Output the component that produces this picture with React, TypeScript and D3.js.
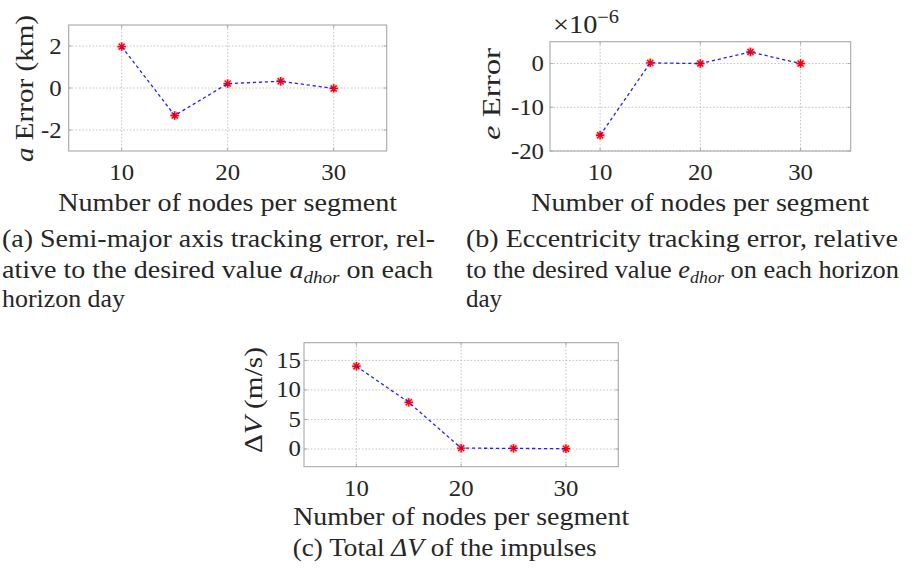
import React from "react";
import * as d3 from "d3";

// Number of collocation nodes per segment (shared x values)
const nodeCounts = [10, 15, 20, 25, 30];
// Semi-major axis tracking error (km)
const semiMajorError = [1.97, -1.31, 0.21, 0.32, -0.02];
// Eccentricity tracking error (×1e-6)
const eccentricityError = [-16.4, 0.15, 0.0, 2.65, 0.0];
// Total ΔV of the impulses (m/s)
const deltaV = [14.0, 7.9, 0.15, 0.1, 0.05];

const xTicks = [10, 20, 30];
const semiMajorTicks = [-2, 0, 2];
const eccentricityTicks = [-20, -10, 0];
const deltaVTicks = [0, 5, 10, 15];

const xDomain: [number, number] = [5, 35];

const SERIF = "Liberation Serif";
const TICK_FS = 23;
const LABEL_FS = 25;
const INK = "#262626";
const textStyle: React.CSSProperties = { fontFamily: SERIF };

type PanelProps = {
  left: number;
  right: number;
  top: number;
  bottom: number;
  yDomain: [number, number];
  yTicks: number[];
  values: number[];
  tickGap: number;
  xTickDy: number;
  xLabelDy: number;
  yLabelX: number;
  yLabelCy: number;
  yLabelLen: number;
  yLabel: React.ReactNode;
  xLabelLen: number;
};

function Asterisk({ x, y }: { x: number; y: number }) {
  const r = 4.2;
  const d = r * Math.SQRT1_2;
  return (
    <g>
      <circle cx={x} cy={y} r={4.6} fill="#ff2a2a" opacity={0.28} />
      <path
        d={`M${x - r},${y}H${x + r}M${x},${y - r}V${y + r}M${x - d},${y - d}L${x + d},${y + d}M${x - d},${y + d}L${x + d},${y - d}`}
        stroke="#ff0000"
        strokeWidth={1.4}
      />
    </g>
  );
}

function Panel(p: PanelProps) {
  const x = d3.scaleLinear().domain(xDomain).range([p.left, p.right]);
  const y = d3.scaleLinear().domain(p.yDomain).range([p.bottom, p.top]);
  const line = d3
    .line<number>()
    .x((_, i) => x(nodeCounts[i]))
    .y((v) => y(v));
  const cx = (p.left + p.right) / 2;
  return (
    <g>
      {/* dotted grid */}
      {xTicks.map((t) => (
        <line
          key={"gx" + t}
          x1={x(t)}
          x2={x(t)}
          y1={p.top}
          y2={p.bottom}
          stroke="#bdbdbd"
          strokeWidth={0.9}
          strokeDasharray="1.6 1.8"
        />
      ))}
      {p.yTicks.map((t) => (
        <line
          key={"gy" + t}
          x1={p.left}
          x2={p.right}
          y1={y(t)}
          y2={y(t)}
          stroke="#bdbdbd"
          strokeWidth={0.9}
          strokeDasharray="1.6 1.8"
        />
      ))}
      {/* inner tick marks */}
      {xTicks.map((t) => (
        <g key={"tx" + t} stroke="#a8a8a8" strokeWidth={1}>
          <line x1={x(t)} x2={x(t)} y1={p.bottom} y2={p.bottom - 3} />
          <line x1={x(t)} x2={x(t)} y1={p.top} y2={p.top + 3} />
        </g>
      ))}
      {p.yTicks.map((t) => (
        <g key={"ty" + t} stroke="#a8a8a8" strokeWidth={1}>
          <line x1={p.left} x2={p.left + 3} y1={y(t)} y2={y(t)} />
          <line x1={p.right} x2={p.right - 3} y1={y(t)} y2={y(t)} />
        </g>
      ))}
      <rect
        x={p.left}
        y={p.top}
        width={p.right - p.left}
        height={p.bottom - p.top}
        fill="none"
        stroke="#a8a8a8"
        strokeWidth={1.1}
      />
      {/* markers and dashed connecting line */}
      {p.values.map((v, i) => (
        <Asterisk key={"m" + i} x={x(nodeCounts[i])} y={y(v)} />
      ))}
      <path
        d={line(p.values) || ""}
        fill="none"
        stroke="#1f1fff"
        strokeWidth={1.3}
        strokeDasharray="3.2 2.8"
      />
      {/* tick labels */}
      {xTicks.map((t) => (
        <text
          key={"lx" + t}
          transform={`translate(${x(t)},${p.bottom + p.xTickDy}) scale(1.08,1)`}
          textAnchor="middle"
          fontSize={TICK_FS}
          style={textStyle}
          fill={INK}
        >
          {t}
        </text>
      ))}
      {p.yTicks.map((t) => (
        <text
          key={"ly" + t}
          transform={`translate(${p.left - p.tickGap},${y(t) + 7.5}) scale(1.08,1)`}
          textAnchor="end"
          fontSize={TICK_FS}
          style={textStyle}
          fill={INK}
        >
          {t < 0 ? "-" + Math.abs(t) : t}
        </text>
      ))}
      {/* axis labels */}
      <text
        x={cx - p.xLabelLen / 2}
        y={p.bottom + p.xLabelDy}
        fontSize={LABEL_FS}
        style={textStyle}
        fill={INK}
        textLength={p.xLabelLen}
        lengthAdjust="spacingAndGlyphs"
      >
        Number of nodes per segment
      </text>
      <text
        transform={`translate(${p.yLabelX},${p.yLabelCy + p.yLabelLen / 2}) rotate(-90)`}
        fontSize={LABEL_FS}
        style={textStyle}
        fill={INK}
        textLength={p.yLabelLen}
        lengthAdjust="spacingAndGlyphs"
      >
        {p.yLabel}
      </text>
    </g>
  );
}

type CaptionLine = { x: number; y: number; len?: number; content: React.ReactNode };

function Caption({ lines }: { lines: CaptionLine[] }) {
  return (
    <g>
      {lines.map((l, i) =>
        l.len ? (
          <text
            key={i}
            x={l.x}
            y={l.y}
            fontSize={LABEL_FS}
            style={textStyle}
            fill={INK}
            textLength={l.len}
            lengthAdjust="spacingAndGlyphs"
          >
            {l.content}
          </text>
        ) : (
          <text key={i} x={l.x} y={l.y} fontSize={LABEL_FS} style={textStyle} fill={INK}>
            {l.content}
          </text>
        )
      )}
    </g>
  );
}

function Sub({ base, sub }: { base: string; sub: string }) {
  return (
    <>
      <tspan fontStyle="italic">{base}</tspan>
      <tspan fontStyle="italic" fontSize={17} dy={5}>
        {sub}
      </tspan>
    </>
  );
}

export default function App() {
  return (
    <svg
      width={914}
      height={573}
      viewBox="0 0 914 573"
      style={{ position: "absolute", left: 0, top: 0, background: "#fff", fontFamily: SERIF }}
    >
      <Panel
        left={68.7}
        right={386.7}
        top={25}
        bottom={151}
        yDomain={[-3, 3]}
        yTicks={semiMajorTicks}
        values={semiMajorError}
        tickGap={7}
        xTickDy={29}
        xLabelDy={59.5}
        yLabelX={33}
        yLabelCy={88.5}
        yLabelLen={147}
        xLabelLen={339}
        yLabel={
          <>
            <tspan fontStyle="italic">a</tspan> Error (km)
          </>
        }
      />
      <Panel
        left={550}
        right={850.7}
        top={41.7}
        bottom={151}
        yDomain={[-20, 5]}
        yTicks={eccentricityTicks}
        values={eccentricityError}
        tickGap={6}
        xTickDy={29}
        xLabelDy={59.5}
        yLabelX={500}
        yLabelCy={94}
        yLabelLen={92}
        xLabelLen={338}
        yLabel={
          <>
            <tspan fontStyle="italic">e</tspan> Error
          </>
        }
      />
      {/* exponent multiplier for the eccentricity axis */}
      <text
        x={553}
        y={33}
        fontSize={25}
        style={textStyle}
        fill={INK}
        textLength={66}
        lengthAdjust="spacingAndGlyphs"
      >
        ×10
        <tspan fontSize={18} dy={-10}>
          −6
        </tspan>
      </text>
      <Panel
        left={304}
        right={618.3}
        top={342.7}
        bottom={466.7}
        yDomain={[-3, 18]}
        yTicks={deltaVTicks}
        values={deltaV}
        tickGap={3}
        xTickDy={29}
        xLabelDy={58.3}
        yLabelX={262}
        yLabelCy={400}
        yLabelLen={106}
        xLabelLen={336}
        yLabel={
          <>
            Δ<tspan fontStyle="italic">V</tspan> (m/s)
          </>
        }
      />
      <Caption
        lines={[
          { x: 2, y: 247, len: 433, content: "(a) Semi-major axis tracking error, rel-" },
          {
            x: 2,
            y: 277.5,
            len: 431,
            content: (
              <>
                ative to the desired value <Sub base="a" sub="dhor" />
                <tspan dy={-5}> on each</tspan>
              </>
            ),
          },
          { x: 2, y: 307, len: 123, content: "horizon day" },
        ]}
      />
      <Caption
        lines={[
          { x: 466, y: 247, len: 432, content: "(b) Eccentricity tracking error, relative" },
          {
            x: 466,
            y: 277.5,
            len: 433,
            content: (
              <>
                to the desired value <Sub base="e" sub="dhor" />
                <tspan dy={-5}> on each horizon</tspan>
              </>
            ),
          },
          { x: 466, y: 307, content: "day" },
        ]}
      />
      <Caption
        lines={[
          {
            x: 292.7,
            y: 556,
            len: 304,
            content: (
              <>
                (c) Total <tspan fontStyle="italic">ΔV</tspan> of the impulses
              </>
            ),
          },
        ]}
      />
    </svg>
  );
}
